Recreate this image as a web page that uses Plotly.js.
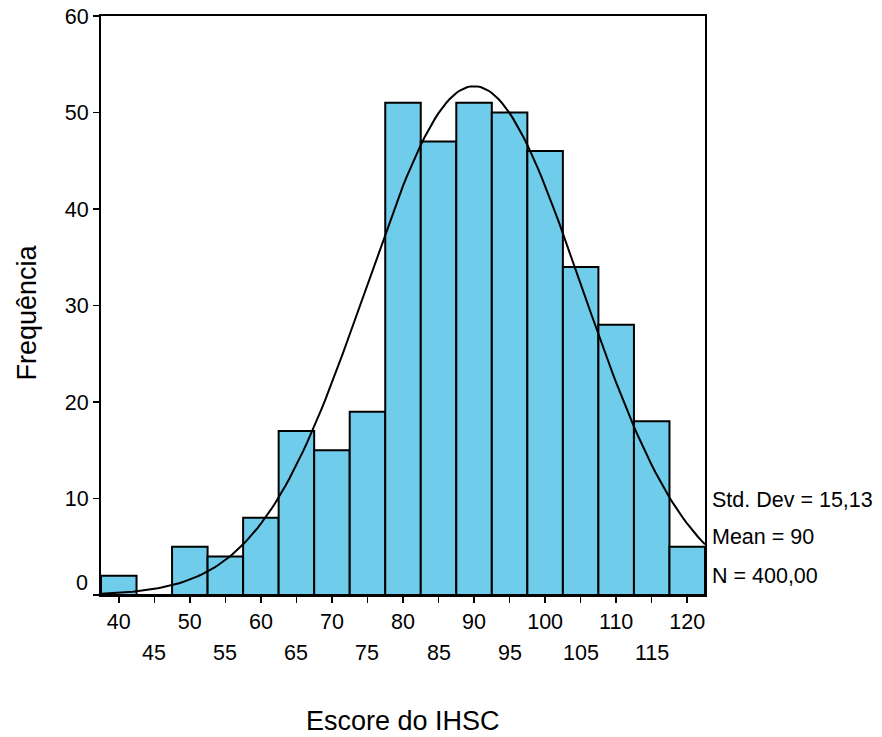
<!DOCTYPE html>
<html><head><meta charset="utf-8">
<script src="https://cdn.plot.ly/plotly-3.0.1.min.js"></script>
<style>body{margin:0;background:#fff}#c{width:882px;height:737px}</style>
</head><body><div id="c"></div>
<script>
const binCenters = [40,45,50,55,60,65,70,75,80,85,90,95,100,105,110,115,120];
const frequencies = [2,0,5,4,8,17,15,19,51,47,51,50,46,34,28,18,5];
const binWidth = 5;
const statMean = 90;
const statSd = 15.13;
const statN = 400;
const statLabels = ["Std. Dev = 15,13","Mean = 90","N = 400,00"];
const xTickRow1 = [40,50,60,70,80,90,100,110,120];
const xTickRow2 = [45,55,65,75,85,95,105,115];
const yTicks = [0,10,20,30,40,50,60];

// fitted normal curve from stated statistics
const cx = [], cy = [];
for (let x = 37.5; x <= 122.5001; x += 0.5) {
  cx.push(x);
  cy.push(statN*binWidth/(statSd*Math.sqrt(2*Math.PI))*Math.exp(-0.5*Math.pow((x-statMean)/statSd,2)));
}

const fam = "Liberation Sans, Arial, sans-serif";
const font = {family:fam, size:21.5, color:"#000"};
const titleFont = {family:fam, size:27, color:"#000"};
const ann = [];
xTickRow2.forEach(v => ann.push({x:v, y:0, xref:'x', yref:'paper', text:String(v), showarrow:false,
  yanchor:'middle', yshift:-58, font:font}));
ann.push({x:0, y:0, xref:'paper', yref:'y', text:'0', showarrow:false, xanchor:'right', yanchor:'middle',
  xshift:-11, yshift:12, font:font});
statLabels.forEach((t,i) => ann.push({x:1, y:[9.8,6,2][i], xref:'paper', yref:'y', text:t, showarrow:false,
  xanchor:'left', yanchor:'middle', xshift:5, font:font}));
ann.push({x:0.5, y:0, xref:'paper', yref:'paper', text:'Escore do IHSC', showarrow:false,
  yanchor:'middle', yshift:-126, font:titleFont});
ann.push({x:0, y:0.5, xref:'paper', yref:'paper', text:'Frequência', showarrow:false, textangle:-90,
  xanchor:'center', yanchor:'middle', xshift:-75, yshift:-7, font:titleFont});

Plotly.newPlot('c', [
  {type:'bar', x:binCenters, y:frequencies, width:binWidth,
   marker:{color:'#70CCEB', line:{color:'#000', width:2}}, hoverinfo:'skip'},
  {type:'scatter', mode:'lines', x:cx, y:cy, line:{color:'#000', width:2}, hoverinfo:'skip'}
], {
  width:882, height:737, showlegend:false,
  margin:{l:101, r:177, t:16, b:142},
  paper_bgcolor:'#fff', plot_bgcolor:'#fff',
  font:font, bargap:0,
  xaxis:{range:[37.5,122.5], tickmode:'array', tickvals:binCenters,
    ticktext:binCenters.map(v => xTickRow1.includes(v) ? String(v) : ''),
    ticks:'outside', ticklen:6, tickwidth:1.5, tickcolor:'#000',
    showline:true, linecolor:'#000', linewidth:2, mirror:true, showgrid:false, zeroline:false,
    tickfont:font},
  yaxis:{range:[0,60], tickmode:'array', tickvals:yTicks,
    ticktext:yTicks.map(v => v===0 ? '' : String(v)),
    ticks:'outside', ticklen:6, tickwidth:1.5, tickcolor:'#000',
    showline:true, linecolor:'#000', linewidth:2, mirror:true, showgrid:false, zeroline:false,
    tickfont:font},
  annotations:ann
}, {displayModeBar:false, staticPlot:true});
</script></body></html>
